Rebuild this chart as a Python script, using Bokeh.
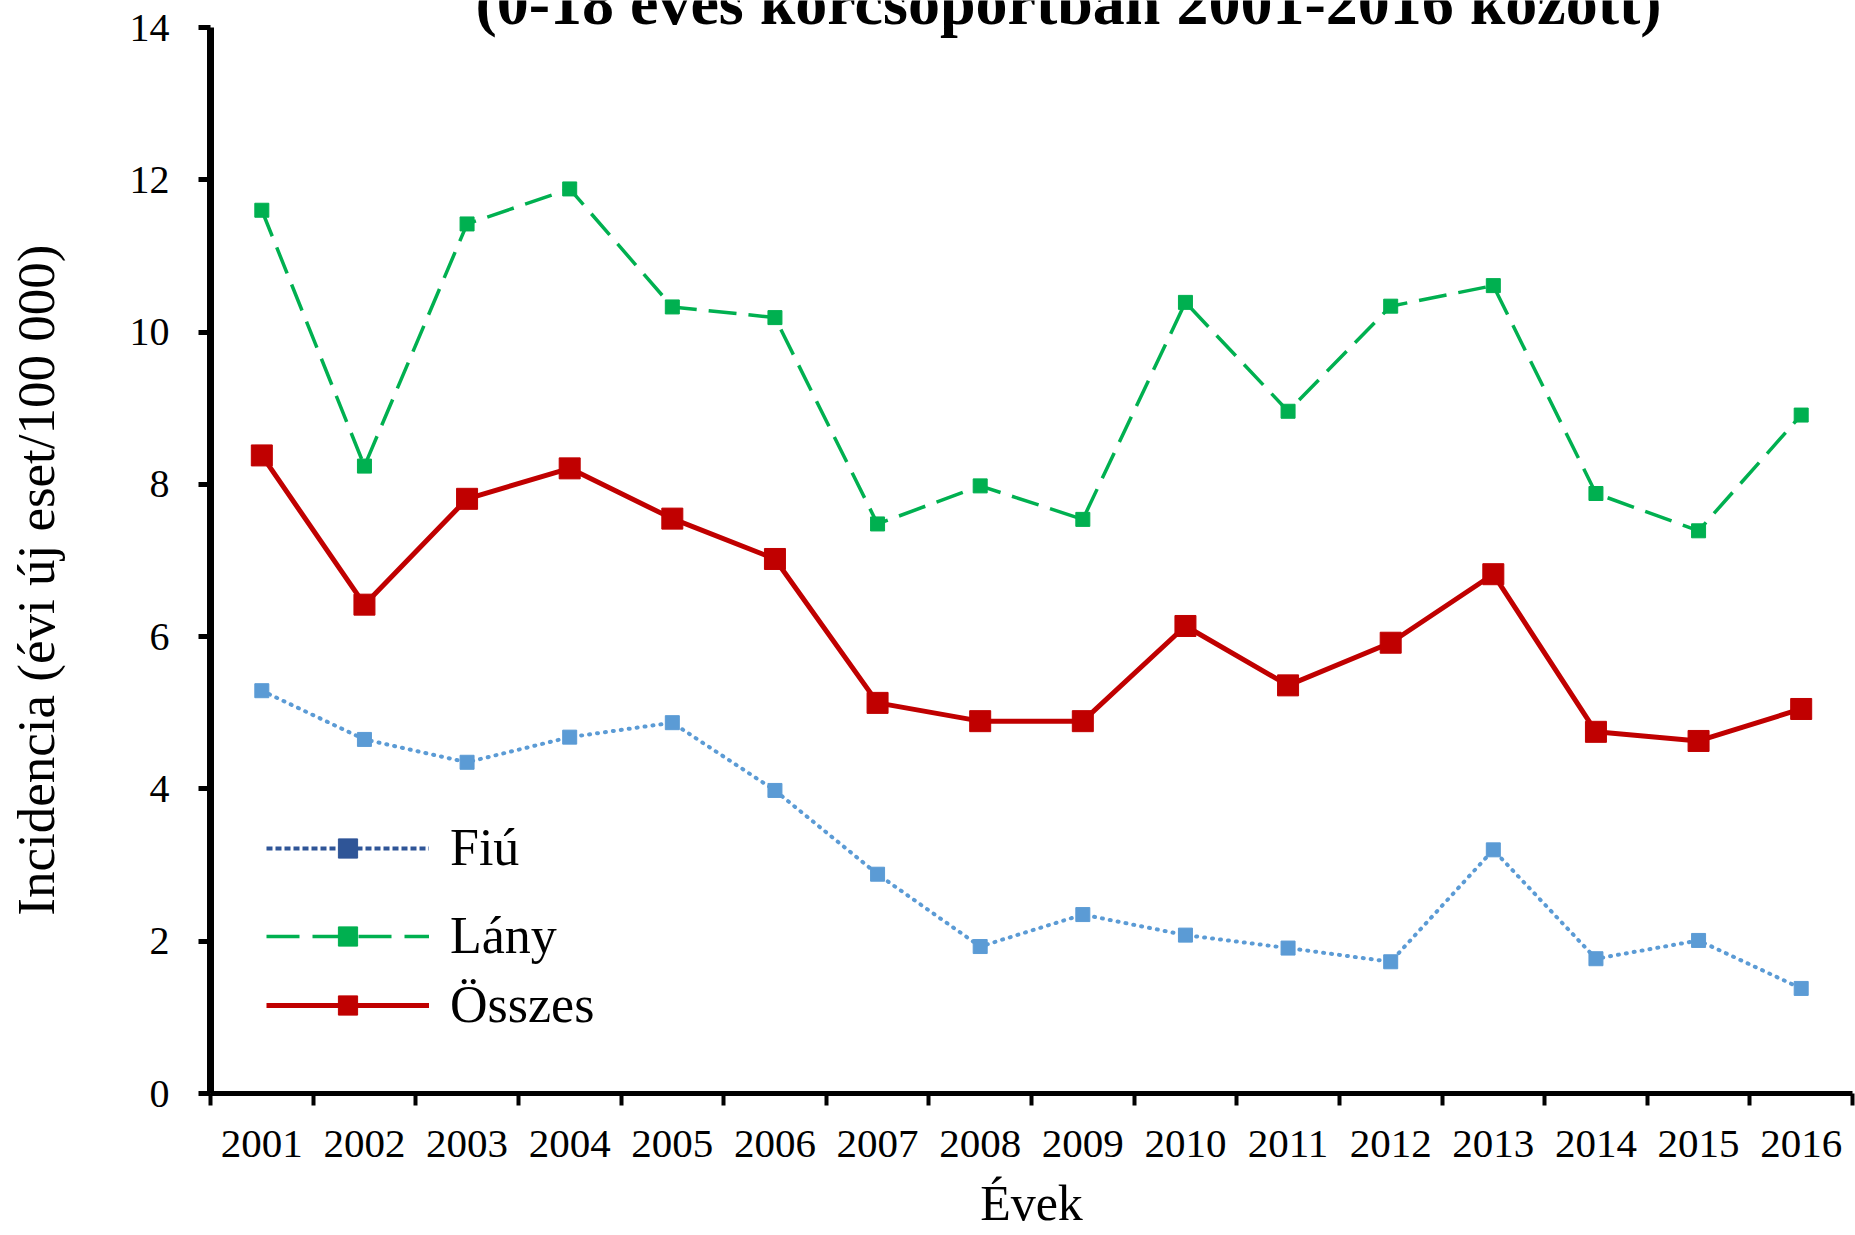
from bokeh.plotting import figure
from bokeh.models import (Range1d, FixedTicker, Legend, LegendItem, Label,
                          ColumnDataSource, CDSView, IndexFilter)
from bokeh.embed import file_html
from bokeh.resources import INLINE

years = ["2001", "2002", "2003", "2004", "2005", "2006", "2007", "2008",
         "2009", "2010", "2011", "2012", "2013", "2014", "2015", "2016"]
fiu = [5.29, 4.65, 4.35, 4.68, 4.87, 3.98, 2.88, 1.93, 2.35, 2.08, 1.91, 1.73, 3.20, 1.77, 2.01, 1.38]
lany = [11.60, 8.24, 11.42, 11.88, 10.33, 10.19, 7.48, 7.98, 7.54, 10.39, 8.96, 10.34, 10.61, 7.88, 7.39, 8.91]
osszes = [8.38, 6.42, 7.81, 8.21, 7.55, 7.02, 5.13, 4.89, 4.89, 6.14, 5.36, 5.92, 6.82, 4.75, 4.63, 5.05]
y_ticks = [0, 2, 4, 6, 8, 10, 12, 14]
title_text = "(0-18 éves korcsoportban 2001-2016 között)"
y_title = "Incidencia (évi új eset/100 000)"
x_title = "Évek"

FONT = "Liberation Serif"
RED = "#C00000"
GREEN = "#00B050"
LBLUE = "#5B9BD5"
DBLUE = "#2F5597"

n = len(years)
xc = [i + 0.5 for i in range(n)]
bounds = list(range(n + 1))
ymax = max(y_ticks)

# layout: frame spans the full canvas height above the x axis; the value axis
# stops at ymax and the space above it (27 px) holds the clipped title
H = 1235
BOTTOM = 142
TOP_GAP = 27
frame_h = H - BOTTOM
ppu = (frame_h - TOP_GAP) / ymax
y_end = frame_h / ppu

src = ColumnDataSource(dict(x=xc, fiu=fiu, lany=lany, osszes=osszes))

p = figure(width=1855, height=H, output_backend="svg", toolbar_location=None,
           x_range=Range1d(0, n), y_range=Range1d(0, y_end),
           min_border_left=210, min_border_right=3, min_border_top=0, min_border_bottom=BOTTOM)
p.outline_line_color = None
p.grid.visible = False
p.background_fill_color = "white"
p.border_fill_color = "white"

# legend-only renderers: a single hidden point each (drawn first, covered by the series)
def one():
    return CDSView(filter=IndexFilter(indices=[0]))

lf1 = p.line("x", "fiu", source=src, view=one(), line_color=DBLUE, line_width=4, line_dash="6 3")
lf2 = p.scatter("x", "fiu", source=src, view=one(), marker="square", size=1,
                fill_color=DBLUE, line_color=DBLUE)
ll1 = p.line("x", "lany", source=src, view=one(), line_color=GREEN, line_width=3.5, line_dash="33 13")
ll2 = p.scatter("x", "lany", source=src, view=one(), marker="square", size=1,
                fill_color=GREEN, line_color=GREEN)
lo1 = p.line("x", "osszes", source=src, view=one(), line_color=RED, line_width=5)
lo2 = p.scatter("x", "osszes", source=src, view=one(), marker="square", size=1,
                fill_color=RED, line_color=RED)

# data series
p.line("x", "fiu", source=src, line_color=LBLUE, line_width=4, line_dash="1 7", line_cap="round")
p.scatter("x", "fiu", source=src, marker="square", size=14, fill_color=LBLUE, line_color=LBLUE)
p.line("x", "lany", source=src, line_color=GREEN, line_width=3.5, line_dash="28 12")
p.scatter("x", "lany", source=src, marker="square", size=14, fill_color=GREEN, line_color=GREEN)
p.line("x", "osszes", source=src, line_color=RED, line_width=5)
p.scatter("x", "osszes", source=src, marker="square", size=21, fill_color=RED, line_color=RED)

for label, rs, loc in [("Fiú", [lf1, lf2], (56, 216)),
                       ("Lány", [ll1, ll2], (56, 128)),
                       ("Összes", [lo1, lo2], (56, 59))]:
    lg = Legend(items=[LegendItem(label=label, renderers=rs)], location=loc,
                glyph_width=163, glyph_height=48, label_height=48, label_standoff=21,
                padding=0, margin=0, spacing=0, border_line_color=None,
                background_fill_alpha=0, label_text_font=FONT,
                label_text_font_size="52px", label_text_color="black")
    p.add_layout(lg, "center")

# x axis
xa = p.xaxis[0]
xa.ticker = FixedTicker(ticks=xc, minor_ticks=bounds)
xa.major_label_overrides = {x: y for x, y in zip(xc, years)}
xa.major_tick_in = 0
xa.major_tick_out = 0
xa.minor_tick_in = 0
xa.minor_tick_out = 12
xa.minor_tick_line_width = 4
xa.minor_tick_line_color = "black"
xa.axis_line_width = 5
xa.axis_line_color = "black"
xa.major_label_text_font = FONT
xa.major_label_text_font_size = "41px"
xa.major_label_text_color = "black"
xa.major_label_standoff = 25
xa.axis_label = x_title
xa.axis_label_text_font = FONT
xa.axis_label_text_font_size = "50px"
xa.axis_label_text_font_style = "normal"
xa.axis_label_text_color = "black"
xa.axis_label_standoff = 15

# y axis
ya = p.yaxis[0]
ya.bounds = (0, ymax)
ya.ticker = FixedTicker(ticks=y_ticks)
ya.minor_tick_line_color = None
ya.major_tick_in = 0
ya.major_tick_out = 12
ya.major_tick_line_width = 5
ya.major_tick_line_color = "black"
ya.axis_line_width = 7
ya.axis_line_color = "black"
ya.major_label_text_font = FONT
ya.major_label_text_font_size = "40px"
ya.major_label_text_color = "black"
ya.major_label_standoff = 29
# trailing no-break spaces move the visible title down to match the reference
ya.axis_label = y_title + "\u00a0" * 5
ya.axis_label_text_font = FONT
ya.axis_label_text_font_size = "53px"
ya.axis_label_text_font_style = "normal"
ya.axis_label_text_color = "black"
ya.axis_label_standoff = 62

# title (cut off at the top, as in the reference)
p.add_layout(Label(x=n / 2, y=ymax, x_offset=37, y_offset=25, text=title_text,
                   text_align="center", text_baseline="alphabetic",
                   text_font=FONT, text_font_size="64px", text_font_style="bold",
                   text_color="black"))

open("out.html", "w").write(file_html(p, INLINE))
